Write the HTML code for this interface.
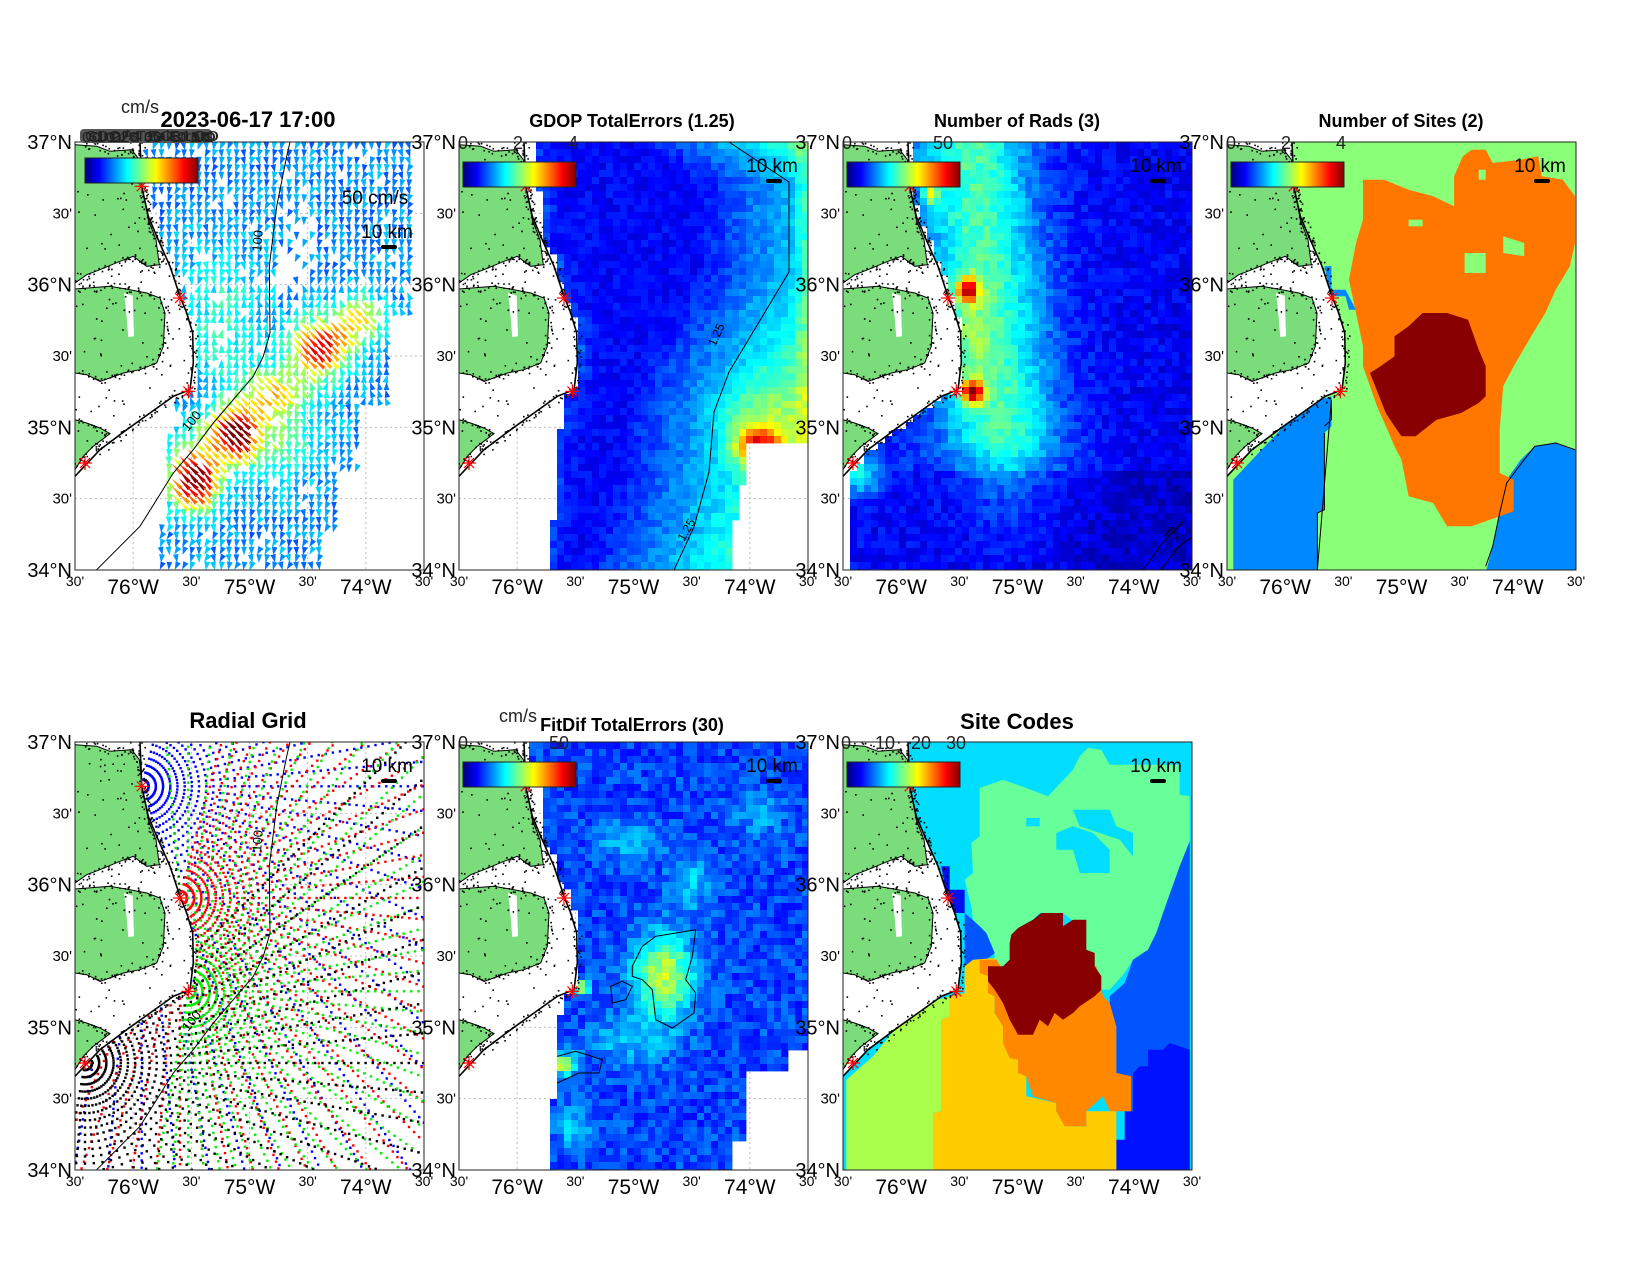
<!DOCTYPE html>
<html><head><meta charset="utf-8"><style>body{margin:0;background:#fff}svg{display:block}text{font-family:"Liberation Sans",Arial,sans-serif}</style></head>
<body><svg id="s" xmlns="http://www.w3.org/2000/svg" width="1650" height="1275" viewBox="0 0 1650 1275"></svg>
<script>
let seed=12345;function rnd(){seed=(seed*16807)%2147483647;return seed/2147483647;}
function cl(v){return Math.max(0,Math.min(1,v));}
function jet(t){t=cl(t);const c=v=>Math.round(255*cl(v));return `rgb(${c(1.5-Math.abs(4*t-3))},${c(1.5-Math.abs(4*t-2))},${c(1.5-Math.abs(4*t-1))})`;}
const W=349,H=428;
const P=[[75,142],[459,142],[843,142],[1227,142],[75,742],[459,742],[843,742]];
const z1=a=>a.map(p=>[(p[0]-225)/3,(p[1]-187)/3]);
const z7=a=>a.map(p=>[(p[0]-10)/3,(p[1]-127)/3]);
const z4=a=>a.map(p=>[(p[0]-362)*0.3505,(p[1]-187)/3]);
const pts=a=>a.map(p=>p[0].toFixed(1)+','+p[1].toFixed(1)).join(' ');
function interp(a,y){if(y<=a[0][1])return a[0][0];for(let i=1;i<a.length;i++){if(y<=a[i][1]){const t=(y-a[i-1][1])/(a[i][1]-a[i-1][1]||1);return a[i-1][0]+t*(a[i][0]-a[i-1][0]);}}return a[a.length-1][0];}
const coast=z1([[420,187],[425,320],[445,410],[470,470],[510,560],[540,650],[560,700],[578,760],[580,850],[570,930],[520,950],[450,1000],[380,1050],[300,1110],[225,1190],[190,1215]]);
const isO=(x,y,m)=>x>interp(coast,y)+(m||0);
const landN=z1([[225,195],[290,200],[330,215],[395,210],[418,240],[428,330],[445,420],[468,480],[478,555],[440,560],[400,530],[360,545],[300,570],[260,585],[225,610]]);
const landS=z1([[225,628],[330,620],[390,630],[440,640],[480,655],[495,700],[490,800],[470,850],[420,870],[370,880],[330,895],[300,905],[260,885],[225,880]]);
const inlet=z1([[372,640],[398,648],[402,770],[385,772],[378,690]]);
const landSW=z1([[225,1020],[260,1030],[300,1045],[330,1062],[280,1100],[250,1130],[225,1170]]);
const depth=z1([[870,187],[860,230],[830,380],[808,560],[810,760],[790,830],[760,890],[640,1030],[580,1110],[520,1180],[420,1340],[290,1470]]);
const sites=z1([[425,320],[540,655],[565,935],[255,1150]]);
let dotsStr='';
(function(){for(const poly of [landN,landS,landSW,coast.slice(0,14)]){for(let i=1;i<poly.length;i++){const [a,b]=[poly[i-1],poly[i]];const L=Math.hypot(b[0]-a[0],b[1]-a[1]);for(let s=0;s<L;s+=2.5){const t=s/L;const x=a[0]+t*(b[0]-a[0])+(rnd()-0.5)*9,y=a[1]+t*(b[1]-a[1])+(rnd()-0.5)*9;dotsStr+=`<rect x="${x.toFixed(1)}" y="${y.toFixed(1)}" width="1.6" height="1.6" fill="#000"/>`;}}}
for(let i=0;i<160;i++){const x=rnd()*110,y=rnd()*340;if(!isO(x,y,-3))dotsStr+=`<rect x="${x.toFixed(1)}" y="${y.toFixed(1)}" width="1.6" height="1.6" fill="#000"/>`;}})();
const mask=pts([...coast,[-10,345],[-10,-10],[coast[0][0],-10]]);
function mapLayer(){return `<polygon points="${mask}" fill="#fff"/>`+
`<polygon points="${pts(landN)}" fill="#7bdc7b" stroke="#000" stroke-width="1"/>`+
`<polygon points="${pts(landS)}" fill="#7bdc7b" stroke="#000" stroke-width="1"/>`+
`<polygon points="${pts(inlet)}" fill="#fff"/>`+
`<polygon points="${pts(landSW)}" fill="#7bdc7b" stroke="#000" stroke-width="1"/>`+dotsStr+
`<polyline points="${pts(coast)}" fill="none" stroke="#000" stroke-width="1.6"/>`;}
function stars(){let s='';for(const [x,y] of sites){for(let a=0;a<4;a++){const an=a*Math.PI/4;const dx=7*Math.cos(an),dy=7*Math.sin(an);s+=`<line x1="${x-dx}" y1="${y-dy}" x2="${x+dx}" y2="${y+dy}" stroke="#f00" stroke-width="1.2"/>`;}}return s;}
function grid(){let s='';for(let i=1;i<6;i++){const x=i*W/6,y=i*H/6;s+=`<line x1="${x}" y1="0" x2="${x}" y2="${H}" stroke="#bbb" stroke-dasharray="2,3"/><line x1="0" y1="${y}" x2="${W}" y2="${y}" stroke="#bbb" stroke-dasharray="2,3"/>`;}return s;}
function heat(fn,cs){let s='';for(let y=0;y<H;y+=cs)for(let x=0;x<W;x+=cs){const v=fn(x+cs/2,y+cs/2);if(v!=null)s+=`<rect x="${x}" y="${y}" width="${cs+0.4}" height="${cs+0.4}" fill="${jet(v)}"/>`;}return s;}
const g=(x,y,cx,cy,sx,sy)=>Math.exp(-((x-cx)**2/(sx*sx)+(y-cy)**2/(sy*sy)));
function km(x,y){return `<text x="${x}" y="${y}" font-size="19" text-anchor="middle">10 km</text><rect x="${x-6}" y="${y+7}" width="16" height="4" rx="2" fill="#000"/>`;}
const L2=y=>y<50?75:y<110?85:y<150?100:y<175?108:y<240?122:y<290?105:y<380?98:90;
function p1(){let s='';const R=y=>y<170?335:y<260?318:y<330?285:y<390?262:245;
for(let y=4;y<H;y+=7.5)for(let x=4;x<W;x+=7.5){if(x<L2(y)-8||x>R(y)||!isO(x,y,4))continue;if(rnd()<0.06)continue;
if(y>60&&y<150&&x>200&&x<240&&rnd()<0.5)continue;
let sp=0.2+0.13*rnd()+0.15*g(x,y,150,180,45,70)+0.75*g(x,y,118,338,24,30)+0.6*g(x,y,158,290,22,22)+0.65*g(x,y,245,205,28,28)+0.35*g(x,y,200,250,35,25)+0.35*g(x,y,285,175,25,25)+0.25*g(x,y,180,300,60,40);
const band=sp>0.55;let base=y<140?95:y<265?-90:100;let an=(band?225+10*(rnd()-0.5):base+50*(rnd()-0.5))*Math.PI/180;const L=band?6+sp*10:7+sp*5,w=band?4:5+sp*3;const c=Math.cos(an),si=Math.sin(an);
const tx=x+c*L/2,ty=y+si*L/2,bx=x-c*L/2,by=y-si*L/2;
s+=`<polygon points="${tx.toFixed(1)},${ty.toFixed(1)} ${(bx-si*w/2).toFixed(1)},${(by+c*w/2).toFixed(1)} ${(bx+si*w/2).toFixed(1)},${(by-c*w/2).toFixed(1)}" fill="${jet(sp)}"/>`;}return s;}
const xcont=[[270,0],[300,20],[330,40],[330,130],[300,180],[270,230],[255,270],[250,330],[235,385],[215,428]];
function p2(){const R=y=>y<300?349:y<340?290:y<380?282:270;return heat((x,y)=>{if(x<L2(y)||x>R(y)||!isO(x,y,2))return null;const d=x-interp(xcont,y);let v=Math.max(0.5,1.25+d*0.008)+(rnd()-0.5)*0.3;v+=1.8*g(x,y,300,305,22,18)+0.3*g(x,y,345,y,8,1)+0.35*Math.exp(-(x-L2(y))/8)+0.5*g(x,y,300,280,40,40);return v/4;},7);}
function p3(){return heat((x,y)=>{if(!isO(x,y,3)||x<4)return null;if(y<70&&x<66)return null;let t=0.17+0.3*g(x,y,145+(y-150)*0.1,0,55,1e9)*(y<300?1:Math.exp(-(y-300)/50))+0.55*g(x,y,125,148,11,12)+0.6*g(x,y,130,250,11,11)+0.3*g(x,y,88,50,9,15)+0.25*g(x,y,18,335,20,18)+0.12*g(x,y,125,200,20,60)-0.06*(x/349)-0.04*(y>330?1:0)+(rnd()-0.5)*0.09;return t;},7);}
function p6(){const L=y=>y<45?68:y<110?83:y<150?97:y<170?112:y<240?122:y<270?108:y<360?98:90;const R=y=>y<308?349:y<330?330:y<400?288:273;
return heat((x,y)=>{if(x<L(y)||x>R(y)||!isO(x,y,2))return null;let t=0.19+(rnd()-0.5)*0.12+0.38*g(x,y,205,235,30,42)+0.35*g(x,y,122,245,8,8)+0.42*g(x,y,105,322,12,10)+0.13*g(x,y,170,100,30,20)+0.13*g(x,y,230,140,20,30)+0.1*g(x,y,300,70,25,25)+0.14*g(x,y,115,385,20,20)+0.12*g(x,y,170,300,40,25)+0.1*g(x,y,40,0,30,20);return t;},7);}
function p4(){let s=`<rect x="0" y="0" width="${W}" height="${H}" fill="#8aff78"/>`;
const poly=(a,c)=>`<polygon points="${pts(z4(a))}" fill="${c}"/>`;
s+=poly([[380,1200],[470,1100],[560,1000],[600,970],[660,950],[660,1040],[640,1060],[640,1290],[620,1300],[620,1480],[380,1480]],'#0088ff');
s+=poly([[1100,1480],[1120,1400],[1140,1290],[1160,1200],[1200,1140],[1240,1100],[1300,1090],[1360,1110],[1360,1480]],'#0088ff');
s+=poly([[640,560],[660,560],[660,630],[700,630],[730,690],[710,690],[700,650],[660,650]],'#0088ff');
s+=poly([[750,300],[810,300],[880,330],[950,350],[1010,380],[1010,290],[1035,230],[1060,210],[1100,210],[1120,250],[1200,240],[1250,230],[1260,290],[1320,300],[1355,350],[1355,490],[1340,560],[1300,630],[1270,700],[1230,770],[1180,860],[1150,920],[1140,1050],[1140,1180],[1180,1200],[1180,1295],[1060,1340],[990,1340],[950,1270],[880,1250],[860,1140],[840,1100],[820,1050],[790,980],[770,920],[750,860],[750,800],[730,700],[710,600],[730,490],[750,420]],'#ff7700');
s+=poly([[880,420],[920,420],[920,440],[880,440]],'#8aff78')+poly([[1080,270],[1100,270],[1100,300],[1080,300]],'#8aff78')+poly([[1150,470],[1210,490],[1210,530],[1150,520]],'#8aff78')+poly([[1040,520],[1100,520],[1100,580],[1040,580]],'#8aff78');
s+=poly([[920,700],[990,700],[1050,720],[1080,810],[1100,860],[1100,950],[1080,970],[1030,1000],[960,1020],[900,1070],[860,1070],[840,1040],[815,1000],[770,880],[800,860],[840,830],[840,770],[880,740]],'#880000');
s+=`<polyline points="${pts(z4([[640,1040],[660,1020],[660,960]]))} ${pts(z4([[620,1470],[620,1300],[640,1290],[640,1060]]))}" fill="none" stroke="#000"/>`;
s+=`<polyline points="${pts(z4([[1100,1460],[1120,1400],[1140,1300],[1160,1210],[1210,1140],[1240,1100],[1300,1090],[1355,1110]]))}" fill="none" stroke="#000"/>`;
return s;}
function p7(){let s=`<rect x="0" y="0" width="${W}" height="${H}" fill="#00ddff"/>`;const poly=(a,c)=>`<polygon points="${pts(z7(a))}" fill="${c}"/>`;
s+=poly([[420,265],[490,240],[560,265],[625,290],[700,210],[720,170],[745,145],[785,150],[810,195],[1020,195],[1020,285],[1050,290],[1050,425],[1020,500],[995,570],[970,640],[950,700],[925,750],[880,780],[855,820],[810,870],[770,870],[760,840],[740,750],[720,680],[670,640],[600,640],[580,660],[530,690],[510,730],[510,780],[490,800],[465,820],[465,760],[440,700],[400,660],[395,620],[375,540],[400,520],[395,430],[420,410],[420,320]],'#66ff99');
s+=poly([[560,355],[600,355],[600,380],[560,380]],'#00ddff')+poly([[650,400],[700,380],[760,400],[810,450],[810,520],[720,520],[700,450],[650,450]],'#00ddff')+poly([[700,330],[810,330],[830,380],[880,400],[880,470],[840,420],[720,380]],'#00ddff');
s+=poly([[1050,290],[1050,1410],[870,1410],[870,1130],[830,1120],[830,980],[810,960],[810,890],[855,850],[880,780],[925,750],[950,700],[970,640],[995,570],[1020,500],[1050,425]],'#0055ff');
s+=poly([[375,640],[420,680],[440,700],[465,760],[440,780],[390,800],[375,800]],'#0055ff')+poly([[305,500],[330,500],[330,570],[375,570],[375,640],[330,640]],'#0011ee');
s+=poly([[1050,1050],[1050,1410],[830,1410],[830,1320],[855,1320],[855,1235],[880,1235],[880,1120],[900,1100],[925,1100],[925,1050],[970,1050],[990,1030]],'#0011ff');
s+=poly([[20,1410],[20,1140],[100,1070],[190,960],[260,910],[330,890],[330,950],[305,960],[305,1235],[280,1240],[280,1410]],'#aaff4d');
s+=poly([[375,800],[400,780],[465,775],[465,820],[445,830],[445,880],[465,890],[465,940],[490,980],[490,1030],[510,1075],[535,1080],[535,1120],[560,1130],[560,1190],[650,1210],[650,1235],[675,1280],[740,1280],[740,1235],[790,1235],[830,1235],[830,1410],[280,1410],[280,1240],[305,1235],[305,960],[330,950],[330,890],[375,880]],'#ffcc00');
s+=poly([[420,780],[470,780],[490,810],[510,800],[540,770],[770,800],[790,890],[810,910],[830,980],[830,1120],[875,1130],[875,1235],[810,1235],[790,1190],[740,1235],[740,1280],[675,1280],[650,1235],[650,1210],[580,1190],[560,1130],[535,1120],[535,1080],[510,1075],[490,1030],[490,980],[465,940],[465,890],[445,880],[445,830],[420,820]],'#ff8800');
s+=poly([[515,705],[535,685],[580,660],[605,640],[670,640],[670,680],[700,660],[740,660],[740,750],[765,760],[765,800],[785,830],[785,870],[765,890],[720,920],[700,940],[670,960],[645,940],[625,980],[600,960],[580,1005],[535,1005],[510,960],[490,910],[465,870],[445,845],[445,800],[490,800],[510,780],[510,730]],'#880000');
return s;}
function p5(){let s='';const cfg=[[sites[0],-75,125,'#0000ff'],[sites[1],-75,115,'#ff0000'],[sites[2],-95,100,'#00ee00'],[sites[3],-45,100,'#000000']];
for(const [c,a0,a1,col] of cfg){for(let a=a0;a<=a1;a+=5){const an=a*Math.PI/180;for(let r=7;r<480;r+=7.2){const x=c[0]+r*Math.cos(an),y=c[1]+r*Math.sin(an);if(x<0||x>W||y<0||y>H)continue;if(!isO(x,y,2))continue;s+=`<rect x="${(x-1.2).toFixed(1)}" y="${(y-1.2).toFixed(1)}" width="2.4" height="2.4" fill="${col}"/>`;}}}
return s;}
function depthLine(lbl){return `<polyline points="${pts(depth)}" fill="none" stroke="#000" stroke-width="1"/>`+(lbl?`<text transform="translate(186,110) rotate(-85)" font-size="13">100</text><text transform="translate(113,290) rotate(-50)" font-size="13">100</text>`:'');}
let out=`<defs><linearGradient id="jet">`;for(let i=0;i<=16;i++)out+=`<stop offset="${i/16}" stop-color="${jet(i/16)}"/>`;out+=`</linearGradient><clipPath id="c"><rect x="0" y="0" width="${W}" height="${H}"/></clipPath></defs>`;
const contents=[
()=>p1()+mapLayer()+depthLine(true)+stars()+`<text x="300" y="62" font-size="19" text-anchor="middle">50 cm/s</text>`+km(312,96),
()=>p2()+mapLayer()+`<polyline points="${pts(xcont)}" fill="none" stroke="#000"/><text transform="translate(256,205) rotate(-65)" font-size="12">1.25</text><text transform="translate(225,400) rotate(-60)" font-size="12">1.25</text>`+stars()+km(313,30),
()=>p3()+mapLayer()+stars()+`<polyline points="320,395 330,385 335,400" fill="none" stroke="#000"/><polyline points="300,428 320,400 340,380" fill="none" stroke="#000"/><polyline points="318,428 335,405 349,395" fill="none" stroke="#000"/>`+km(313,30),
()=>p4()+mapLayer()+stars()+km(313,30),
()=>grid()+p5()+mapLayer()+depthLine(true)+stars()+km(312,30),
()=>p6()+mapLayer()+`<polygon points="${pts(z7([[530,800],[560,740],[600,710],[720,690],[710,770],[690,840],[720,880],[715,940],[650,985],[600,960],[590,870],[560,840],[530,830]]))}" fill="none" stroke="#000"/><polygon points="${pts(z7([[465,860],[500,845],[530,860],[510,900],[470,910]]))}" fill="none" stroke="#000"/><polyline points="${pts(z7([[305,1070],[360,1055],[440,1080],[430,1120],[370,1120],[305,1150]]))}" fill="none" stroke="#000"/>`+stars()+km(313,30),
()=>p7()+mapLayer()+stars()+km(313,30)];
const cb=[[10,16,null],[4,20,[[4,'0'],[59,'2'],[114,'4']]],[4,20,[[4,'0'],[100,'50']]],[4,20,[[4,'0'],[59,'2'],[114,'4']]],null,[4,20,[[4,'0'],[100,'50']]],[4,20,[[3,'0'],[42,'10'],[78,'20'],[113,'30']]]];
P.forEach((p,i)=>{out+=`<g transform="translate(${p[0]},${p[1]})"><g clip-path="url(#c)">${i==4?'':grid()}${contents[i]()}`;
const c=cb[i];if(c){out+=`<rect x="${c[0]}" y="${c[1]}" width="113" height="25" fill="url(#jet)" stroke="#222"/>`;}
out+=`</g>`;if(c&&c[2])out+=c[2].map(t=>`<text x="${t[0]}" y="7" font-size="18" fill="#222" text-anchor="middle">${t[1]}</text>`).join('');
out+=`<rect x="0" y="0" width="${W}" height="${H}" fill="none" stroke="#222" stroke-width="1"/>`;
for(let k=0;k<=6;k++){const y=H-k*H/6;out+=k%2==0?`<text x="-3" y="${y+7}" font-size="20" text-anchor="end">${34+k/2}°N</text>`:`<text x="-3" y="${y+5}" font-size="15" text-anchor="end">30'</text>`;}
for(let k=0;k<=6;k++){const x=k*W/6;out+=k%2==0?`<text x="${x}" y="${H+16}" font-size="14" text-anchor="middle">30'</text>`:`<text x="${x}" y="${H+24}" font-size="21" text-anchor="middle">${[0,76,0,75,0,74][k]}°W</text>`;}
out+=`</g>`;});
const T=(x,y,s,t)=>`<text x="${x}" y="${y}" font-size="${s}" font-weight="bold" text-anchor="middle">${t}</text>`;
out+=`<text x="140" y="113" font-size="18" text-anchor="middle" fill="#222">cm/s</text>`;
out+=`<rect x="80" y="129" width="132" height="14" rx="4" fill="#555"/>`;
["0 10 20 30 40 50","GDOP TotalErrors","0  2  4  6  8  10","cm/s 50 100"].forEach((t,i)=>out+=`<text x="${82+i*3}" y="${142-(i%2)}" font-size="15" fill="#222" textLength="128" lengthAdjust="spacingAndGlyphs">${t}</text>`);
out+=T(248,127,22,'2023-06-17 17:00')+T(632,127,18,'GDOP TotalErrors (1.25)')+T(1017,127,18,'Number of Rads (3)')+T(1401,127,18,'Number of Sites (2)');
out+=T(248,728,22,'Radial Grid')+`<text x="518" y="722" font-size="18" text-anchor="middle" fill="#222">cm/s</text>`+T(632,731,18,'FitDif TotalErrors (30)')+T(1017,729,22,'Site Codes');
document.getElementById('s').innerHTML=out;
</script></body></html>
